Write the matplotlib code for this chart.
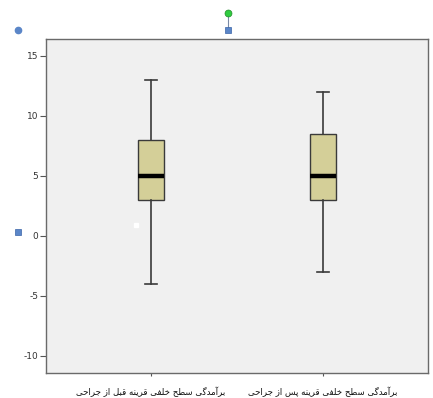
import matplotlib
matplotlib.use('Agg')
import matplotlib.pyplot as plt
from matplotlib.lines import Line2D

# ---------------------------------------------------------
#                      data
# ---------------------------------------------------------

labels = ['برآمدگی سطح خلفی قرینه قبل از جراحی',
          'برآمدگی سطح خلفی قرینه پس از جراحی']
whislo = [-4, -3]
q1 = [3, 3]
med = [5, 5]
q3 = [8, 8.5]
whishi = [13, 12]
yticks = [-10, -5, 0, 5, 10, 15]

# ---------------------------------------------------------
#           simple arabic/persian shaping (no raqm)
# ---------------------------------------------------------

# isolated, final, initial, medial
FORMS = {
    '\u0627': ('\uFE8D', '\uFE8E', None, None),
    '\u0622': ('\uFE81', '\uFE82', None, None),
    '\u0628': ('\uFE8F', '\uFE90', '\uFE91', '\uFE92'),
    '\u067E': ('\uFB56', '\uFB57', '\uFB58', '\uFB59'),
    '\u062C': ('\uFE9D', '\uFE9E', '\uFE9F', '\uFEA0'),
    '\u062D': ('\uFEA1', '\uFEA2', '\uFEA3', '\uFEA4'),
    '\u062E': ('\uFEA5', '\uFEA6', '\uFEA7', '\uFEA8'),
    '\u062F': ('\uFEA9', '\uFEAA', None, None),
    '\u0631': ('\uFEAD', '\uFEAE', None, None),
    '\u0632': ('\uFEAF', '\uFEB0', None, None),
    '\u0633': ('\uFEB1', '\uFEB2', '\uFEB3', '\uFEB4'),
    '\u0637': ('\uFEC1', '\uFEC2', '\uFEC3', '\uFEC4'),
    '\u0641': ('\uFED1', '\uFED2', '\uFED3', '\uFED4'),
    '\u0642': ('\uFED5', '\uFED6', '\uFED7', '\uFED8'),
    '\u06AF': ('\uFB92', '\uFB93', '\uFB94', '\uFB95'),
    '\u0644': ('\uFEDD', '\uFEDE', '\uFEDF', '\uFEE0'),
    '\u0645': ('\uFEE1', '\uFEE2', '\uFEE3', '\uFEE4'),
    '\u0646': ('\uFEE5', '\uFEE6', '\uFEE7', '\uFEE8'),
    '\u0647': ('\uFEE9', '\uFEEA', '\uFEEB', '\uFEEC'),
    '\u06CC': ('\uFBFC', '\uFBFD', '\uFBFE', '\uFBFF'),
}


def shape(s):
    out = []
    for i, c in enumerate(s):
        if c not in FORMS:
            out.append(c)
            continue
        prev = s[i - 1] if i > 0 else ''
        nxt = s[i + 1] if i + 1 < len(s) else ''
        jp = prev in FORMS and FORMS[prev][2] is not None
        jn = FORMS[c][2] is not None and nxt in FORMS
        iso, fin, ini, mid = FORMS[c]
        if jp and jn:
            out.append(mid)
        elif jp:
            out.append(fin)
        elif jn:
            out.append(ini)
        else:
            out.append(iso)
    return ''.join(reversed(out))


# ---------------------------------------------------------
#                      plot
# ---------------------------------------------------------

fig = plt.figure(figsize=(4.33, 3.98), dpi=100)
ax = fig.add_axes([46 / 433, 1 - 373 / 398, 382 / 433, 334 / 398])
ax.set_facecolor('#f0f0f0')

stats = []
for i in range(len(labels)):
    stats.append({'whislo': whislo[i], 'q1': q1[i], 'med': med[i],
                  'q3': q3[i], 'whishi': whishi[i], 'fliers': []})

edge = '#3a3a3a'
ax.bxp(stats, positions=[1, 2], widths=0.15, capwidths=0.075,
       patch_artist=True, showfliers=False,
       boxprops={'facecolor': '#d4cf98', 'edgecolor': edge, 'linewidth': 1},
       whiskerprops={'color': edge, 'linewidth': 1.2},
       capprops={'color': edge, 'linewidth': 1.2},
       medianprops={'color': 'black', 'linewidth': 3.2, 'solid_capstyle': 'butt'})

# stray white mark left of the first box
ax.plot([0.915], [0.85], marker='s', ms=3, color='white', mec='white')

ax.set_xlim(0.39, 2.61)
ax.set_ylim(-11.45, 16.4)
ax.set_yticks(yticks)
ax.set_yticklabels([str(t) for t in yticks], fontsize=6.5, color='#333333')
ax.set_xticks([1, 2])
ax.set_xticklabels([shape(l) for l in labels], fontsize=6.2,
                   family=['DejaVu Sans'], color='#111111')
ax.tick_params(axis='y', length=4, width=0.8, color='#555555', pad=1.5)
ax.tick_params(axis='x', length=2, width=0.8, color='#555555', pad=8)
for sp in ax.spines.values():
    sp.set_color('#6a6a6a')
    sp.set_linewidth(1)

# chart-editor selection handles
def fx(x):
    return x / 433


def fy(y):
    return 1 - y / 398


fig.add_artist(Line2D([fx(228), fx(228)], [fy(13), fy(30)], color='#7a8aa6', lw=0.8))
fig.add_artist(Line2D([fx(18)], [fy(30)], marker='o', ms=4.5, color='#5b86c8', lw=0))
fig.add_artist(Line2D([fx(228)], [fy(13)], marker='o', ms=5, color='#30cc40', mec='#208a2a', mew=0.5, lw=0))
fig.add_artist(Line2D([fx(228)], [fy(30)], marker='s', ms=4.5, color='#5b86c8', mec='#3a64a8', mew=0.5, lw=0))
fig.add_artist(Line2D([fx(18)], [fy(232)], marker='s', ms=4.5, color='#5b86c8', mec='#3a64a8', mew=0.5, lw=0))

fig.savefig('out.png', dpi=100)
